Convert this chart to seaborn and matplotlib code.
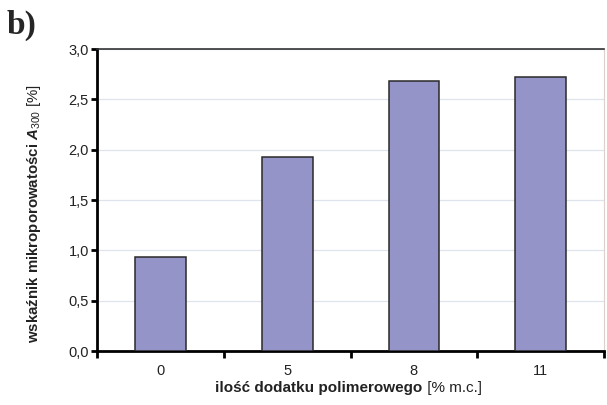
import matplotlib
matplotlib.use("Agg")
import matplotlib.pyplot as plt
import seaborn as sns
import pandas as pd
from matplotlib.ticker import FixedLocator, FuncFormatter

# data: polymer addition [% m.c.] and micro-porosity index A300 [%]
categories = ["0", "5", "8", "11"]
a300_values = [0.93, 1.93, 2.68, 2.72]

sns.set_theme(style="white")
plt.rcParams["font.family"] = ["Liberation Sans", "DejaVu Sans"]
plt.rcParams["mathtext.fontset"] = "custom"
plt.rcParams["mathtext.rm"] = "Liberation Sans"
plt.rcParams["mathtext.it"] = "Liberation Sans:italic:bold"
plt.rcParams["mathtext.bf"] = "Liberation Sans:bold"

df = pd.DataFrame({"dodatek": categories, "A300": a300_values})

fig = plt.figure(figsize=(6.07, 4.05), dpi=100)
ax = fig.add_axes([0.160, 0.133, 0.835, 0.746])

sns.barplot(data=df, x="dodatek", y="A300", ax=ax, color="#9494C9",
            saturation=1, width=0.4, edgecolor="#2a2a2a", linewidth=1.1,
            zorder=3)

ax.set_xlim(-0.5, 3.5)
ax.set_ylim(0, 3.0)

# horizontal grid
yt = [0, 0.5, 1.0, 1.5, 2.0, 2.5, 3.0]
ax.yaxis.set_major_locator(FixedLocator(yt))
ax.yaxis.set_major_formatter(FuncFormatter(lambda v, p: f"{v:.1f}".replace(".", ",")))
ax.grid(axis="y", color="#dfe3ec", linewidth=0.9, zorder=0)
ax.grid(axis="x", visible=False)

# spines
for s in ["left", "bottom"]:
    ax.spines[s].set_color("black")
    ax.spines[s].set_linewidth(2.0)
ax.spines["top"].set_color("#333333")
ax.spines["top"].set_linewidth(1.2)
ax.spines["right"].set_color("#e0d0cc")
ax.spines["right"].set_linewidth(0.8)

# ticks: y outward, x separators between categories
ax.tick_params(axis="y", which="major", direction="out", length=4, width=2,
               color="black", labelsize=10.5, pad=2, left=True)
ax.tick_params(axis="x", which="major", length=0, labelsize=10.5, pad=9)
ax.xaxis.set_minor_locator(FixedLocator([-0.5, 0.5, 1.5, 2.5, 3.5]))
ax.tick_params(axis="x", which="minor", direction="out", length=5, width=2,
               color="black", bottom=True)
for lab in ax.get_xticklabels() + ax.get_yticklabels():
    lab.set_color("#222222")

# x label: bold description followed by regular-weight unit
ax.set_xlabel("")
xlab = fig.text(0.355, 0.032, "ilość dodatku polimerowego", fontsize=11,
                fontweight="bold", ha="left", va="baseline", color="#222222")
ax.annotate(" [% m.c.]", xy=(1, 0), xycoords=xlab, fontsize=11,
            ha="left", va="bottom", color="#222222")

ax.set_ylabel(r"wskaźnik mikroporowatości $A_{300}$ $\mathrm{[\%]}$",
              fontsize=10.8, fontweight="bold", color="#222222")
ax.yaxis.set_label_coords(-0.106, 0.457)

fig.text(0.011, 0.975, "b)", fontsize=24, fontweight="bold",
         family=["Liberation Serif", "DejaVu Serif"], va="top", ha="left")

fig.savefig("out.png", dpi=100)
